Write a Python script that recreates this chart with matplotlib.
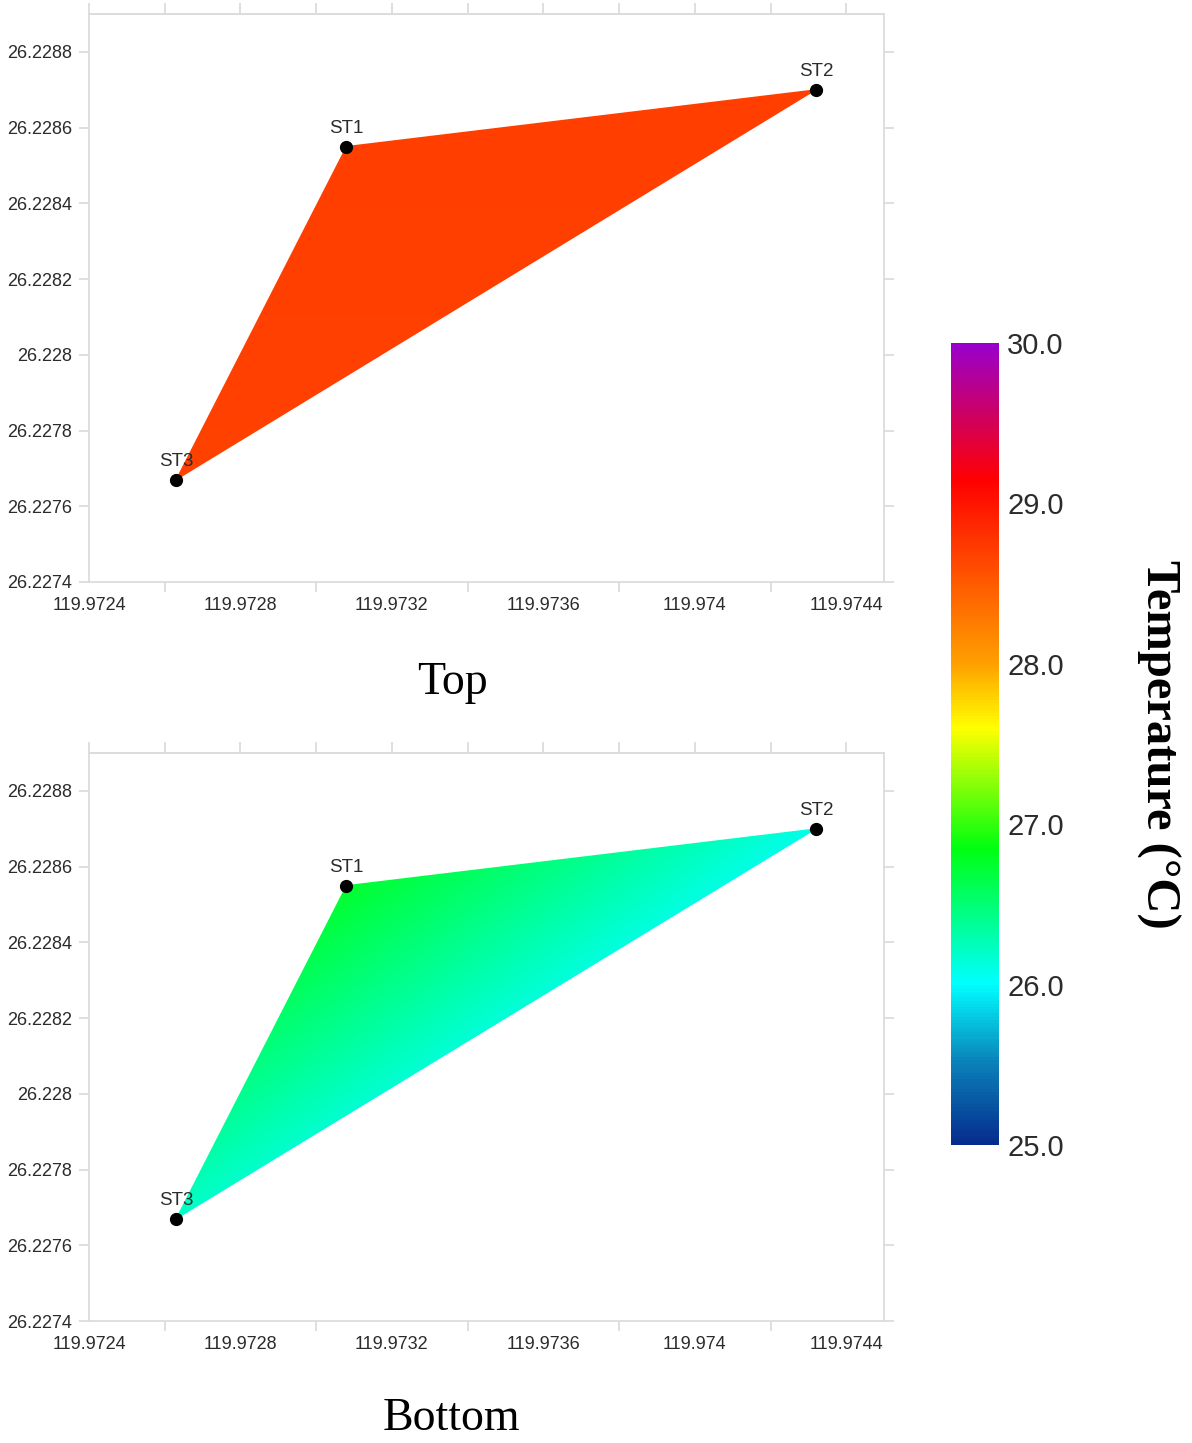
import numpy as np
import matplotlib
matplotlib.use("Agg")
import matplotlib.pyplot as plt
import matplotlib.tri as mtri
from matplotlib.colors import LinearSegmentedColormap, Normalize
from matplotlib.ticker import FixedLocator, FuncFormatter

# station positions (lon, lat) and temperatures
stations = ["ST1", "ST2", "ST3"]
lon = [119.97308, 119.97432, 119.97263]
lat = [26.22855, 26.22870, 26.22767]
temp_top = [28.70, 28.70, 28.68]
temp_bottom = [26.75, 26.08, 26.20]

xticks = [119.9724, 119.9728, 119.9732, 119.9736, 119.9740, 119.9744]
yticks = [26.2274, 26.2276, 26.2278, 26.2280, 26.2282, 26.2284, 26.2286, 26.2288]
cbar_ticks = [25.0, 26.0, 27.0, 28.0, 29.0, 30.0]

cmap = LinearSegmentedColormap.from_list("temp", [
    (0.00, "#062b8f"),
    (0.10, "#0a80b8"),
    (0.20, "#00ffff"),
    (0.37, "#00ff10"),
    (0.52, "#ffff00"),
    (0.60, "#ffa000"),
    (0.83, "#ff0000"),
    (1.00, "#9900cc"),
])
norm = Normalize(25.0, 30.0)

spine_col = "#dcdcdc"
txt_col = "#2b2b2b"
sans = ["Liberation Sans", "DejaVu Sans"]
serif = ["Liberation Serif", "DejaVu Serif"]


def fmt(v, pos=None):
    return f"{v:.4f}".rstrip("0").rstrip(".")


def draw_panel(ax, temps):
    tri = mtri.Triangulation(lon, lat)
    ax.tripcolor(tri, temps, cmap=cmap, norm=norm, shading="gouraud")
    ax.plot(lon, lat, "o", color="black", markersize=8.5, zorder=5)
    for name, x, y in zip(stations, lon, lat):
        ax.annotate(name, (x, y), xytext=(0, 7), textcoords="offset points",
                    ha="center", va="bottom", fontsize=13.5, color=txt_col,
                    family=sans, zorder=6)
    ax.set_xlim(119.9724, 119.9745)
    ax.set_ylim(26.2274, 26.2289)
    for s in ax.spines.values():
        s.set_color(spine_col)
        s.set_linewidth(1.3)

    ax.xaxis.set_major_locator(FixedLocator(xticks))
    ax.xaxis.set_minor_locator(FixedLocator([x + 0.0002 for x in xticks]))
    ax.xaxis.set_major_formatter(FuncFormatter(fmt))
    ax.tick_params(axis="x", which="major", length=0, pad=11,
                   labelsize=13, labelcolor=txt_col)
    ax.tick_params(axis="x", which="minor", length=7, color=spine_col, width=1.3)

    ax.yaxis.set_major_locator(FixedLocator(yticks))
    ax.yaxis.set_major_formatter(FuncFormatter(fmt))
    ax.tick_params(axis="y", which="major", length=7, color=spine_col, width=1.3,
                   right=True, pad=5, labelsize=13, labelcolor=txt_col)
    for lab in ax.get_xticklabels() + ax.get_yticklabels():
        lab.set_family(sans)

    top = ax.secondary_xaxis("top")
    top.set_xticks(sorted(xticks + [x + 0.0002 for x in xticks]))
    top.tick_params(length=8, color=spine_col, width=1.3, labeltop=False)
    top.spines["top"].set_color(spine_col)
    top.spines["top"].set_linewidth(1.3)


fig = plt.figure(figsize=(11.92, 14.43), dpi=100)
ax1 = fig.add_axes([0.0747, 0.5967, 0.667, 0.3936])
ax2 = fig.add_axes([0.0747, 0.0845, 0.667, 0.3936])
draw_panel(ax1, temp_top)
draw_panel(ax2, temp_bottom)

fig.text(0.380, 0.527, "Top", ha="center", va="center", fontsize=33,
         family=serif)
fig.text(0.379, 0.0165, "Bottom", ha="center", va="center", fontsize=33,
         family=serif)

cax = fig.add_axes([0.7978, 0.2065, 0.0403, 0.5558])
sm = plt.cm.ScalarMappable(norm=norm, cmap=cmap)
cb = fig.colorbar(sm, cax=cax, ticks=cbar_ticks)
cb.outline.set_visible(False)
cb.ax.yaxis.set_major_formatter(FuncFormatter(lambda v, p: f"{v:.1f}"))
cb.ax.tick_params(length=0, pad=6, labelsize=21, labelcolor=txt_col)
for lab in cb.ax.get_yticklabels():
    lab.set_family(sans)

fig.text(0.972, 0.484, "Temperature (°C)", rotation=270, ha="center",
         va="center", fontsize=35, fontweight="bold", family=serif)

fig.savefig("out.png", dpi=100, facecolor="white")
